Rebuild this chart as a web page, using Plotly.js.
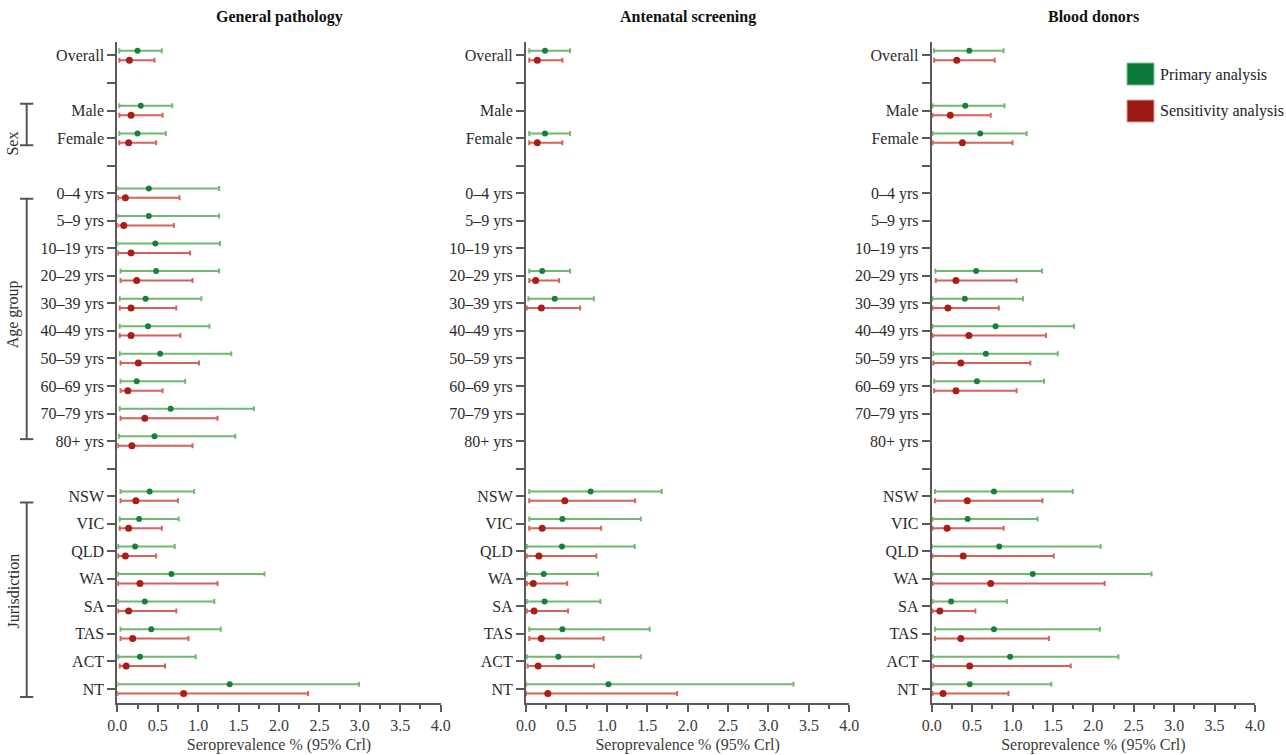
<!DOCTYPE html>
<html>
<head>
<meta charset="utf-8">
<script src="https://cdn.plot.ly/plotly-3.0.1.min.js"></script>
<style>html,body{margin:0;padding:0;background:#fff;}#chart{width:1286px;height:755px;}</style>
</head>
<body>
<div id="chart"></div>
<script>
// ---------- DATA ----------
var categories = ['Overall','','Male','Female','','0–4 yrs','5–9 yrs','10–19 yrs','20–29 yrs','30–39 yrs','40–49 yrs','50–59 yrs','60–69 yrs','70–79 yrs','80+ yrs','','NSW','VIC','QLD','WA','SA','TAS','ACT','NT'];
var panelTitles = ['General pathology','Antenatal screening','Blood donors'];
var seriesNames = ['Primary analysis','Sensitivity analysis'];
var groupLabels = ['Sex','Age group','Jurisdiction'];
var xTitle = 'Seroprevalence % (95% Crl)';

// General pathology
var gpPrimaryEst  = [0.25,null,0.29,0.25,null,0.39,0.39,0.47,0.48,0.35,0.38,0.53,0.24,0.66,0.46,null,0.40,0.27,0.22,0.67,0.34,0.42,0.28,1.39];
var gpPrimaryLow  = [0.025,null,0.025,0.025,null,0.0,0.0,0.0,0.04,0.03,0.03,0.03,0.04,0.03,0.02,null,0.04,0.03,0.01,0.01,0.01,0.04,0.01,0.0];
var gpPrimaryHigh = [0.55,null,0.68,0.60,null,1.26,1.26,1.27,1.26,1.04,1.14,1.41,0.84,1.69,1.46,null,0.95,0.76,0.71,1.82,1.20,1.28,0.97,2.99];
var gpSensEst     = [0.15,null,0.17,0.14,null,0.10,0.08,0.17,0.24,0.17,0.17,0.26,0.13,0.34,0.18,null,0.23,0.14,0.10,0.28,0.14,0.19,0.11,0.82];
var gpSensLow     = [0.025,null,0.025,0.025,null,0.01,0.0,0.01,0.04,0.03,0.03,0.04,0.04,0.04,0.01,null,0.04,0.03,0.01,0.01,0.01,0.04,0.03,0.0];
var gpSensHigh    = [0.46,null,0.56,0.48,null,0.77,0.70,0.90,0.93,0.73,0.78,1.01,0.56,1.24,0.93,null,0.75,0.55,0.48,1.24,0.73,0.88,0.59,2.36];

// Antenatal screening
var anPrimaryEst  = [0.235,null,null,0.235,null,null,null,null,0.20,0.355,null,null,null,null,null,null,0.80,0.45,0.445,0.22,0.23,0.45,0.40,1.02];
var anPrimaryLow  = [0.04,null,null,0.04,null,null,null,null,0.04,0.03,null,null,null,null,null,null,0.04,0.04,0.01,0.01,0.01,0.04,0.01,0.0];
var anPrimaryHigh = [0.545,null,null,0.545,null,null,null,null,0.545,0.84,null,null,null,null,null,null,1.68,1.42,1.345,0.89,0.92,1.53,1.42,3.31];
var anSensEst     = [0.14,null,null,0.14,null,null,null,null,0.12,0.19,null,null,null,null,null,null,0.48,0.20,0.16,0.09,0.10,0.19,0.15,0.27];
var anSensLow     = [0.04,null,null,0.04,null,null,null,null,0.04,0.01,null,null,null,null,null,null,0.04,0.04,0.01,0.01,0.01,0.04,0.02,0.0];
var anSensHigh    = [0.45,null,null,0.45,null,null,null,null,0.41,0.67,null,null,null,null,null,null,1.35,0.93,0.87,0.51,0.52,0.96,0.84,1.87];

// Blood donors
var bdPrimaryEst  = [0.465,null,0.415,0.60,null,null,null,null,0.55,0.41,0.79,0.67,0.56,null,null,null,0.77,0.445,0.835,1.25,0.24,0.77,0.97,0.47];
var bdPrimaryLow  = [0.03,null,0.01,0.01,null,null,null,null,0.045,0.01,0.01,0.02,0.03,null,null,null,0.04,0.01,0.0,0.01,0.01,0.04,0.01,0.01];
var bdPrimaryHigh = [0.89,null,0.90,1.175,null,null,null,null,1.365,1.13,1.76,1.56,1.39,null,null,null,1.745,1.31,2.09,2.72,0.93,2.08,2.31,1.48];
var bdSensEst     = [0.31,null,0.23,0.38,null,null,null,null,0.30,0.20,0.46,0.36,0.30,null,null,null,0.44,0.19,0.39,0.73,0.10,0.36,0.47,0.14];
var bdSensLow     = [0.03,null,0.01,0.01,null,null,null,null,0.05,0.01,0.01,0.02,0.03,null,null,null,0.04,0.01,0.01,0.01,0.01,0.04,0.02,0.01];
var bdSensHigh    = [0.78,null,0.73,1.00,null,null,null,null,1.05,0.83,1.415,1.22,1.05,null,null,null,1.37,0.89,1.51,2.14,0.54,1.45,1.72,0.95];

// ---------- BUILD ----------
var FONT = '"Liberation Serif", "DejaVu Serif", serif';
var panels = [
  {p:[gpPrimaryEst,gpPrimaryLow,gpPrimaryHigh], s:[gpSensEst,gpSensLow,gpSensHigh]},
  {p:[anPrimaryEst,anPrimaryLow,anPrimaryHigh], s:[anSensEst,anSensLow,anSensHigh]},
  {p:[bdPrimaryEst,bdPrimaryLow,bdPrimaryHigh], s:[bdSensEst,bdSensLow,bdSensHigh]}
];
var styles = [
  {marker:'#17803c', err:'#72b872', size:6, off:-0.17},
  {marker:'#a81e18', err:'#d2645b', size:7, off:0.17}
];
var idx = categories.map(function(_, i){ return i; });

var traces = [];
panels.forEach(function(pan, k){
  [pan.p, pan.s].forEach(function(ser, j){
    var est = ser[0], lo = ser[1], hi = ser[2];
    var st = styles[j];
    traces.push({
      type:'scatter', mode:'markers',
      name: seriesNames[j], showlegend:false,
      x: est,
      y: idx.map(function(i){ return i + st.off; }),
      xaxis: k===0 ? 'x' : 'x'+(k+1),
      yaxis: k===0 ? 'y' : 'y'+(k+1),
      marker:{color:st.marker, size:st.size, line:{width:0}},
      error_x:{type:'data', symmetric:false,
        array: est.map(function(v,i){ return v===null ? null : hi[i]-v; }),
        arrayminus: est.map(function(v,i){ return v===null ? null : v-lo[i]; }),
        color:st.err, thickness:2, width:2.5},
      hoverinfo:'skip'
    });
  });
});

var W = 1286, H = 755;
var xDomains = [[117.3/W, 440.7/W],[526/W, 849.3/W],[931.7/W, 1255/W]];
var yDomain = [1-702.7/H, 1-41.7/H];

var layout = {
  width:W, height:H,
  margin:{l:0,r:0,t:0,b:0},
  paper_bgcolor:'#fff', plot_bgcolor:'#fff',
  font:{family:FONT, size:16, color:'#2b2b2b'},
  showlegend:false,
  shapes:[], annotations:[]
};

for (var k=0;k<3;k++){
  var xs = k===0 ? 'xaxis' : 'xaxis'+(k+1);
  var ys = k===0 ? 'yaxis' : 'yaxis'+(k+1);
  layout[xs] = {
    domain:xDomains[k], anchor: k===0?'y':'y'+(k+1),
    range:[0,4], tickvals:[0,0.5,1,1.5,2,2.5,3,3.5,4],
    ticktext:['0.0','0.5','1.0','1.5','2.0','2.5','3.0','3.5','4.0'],
    ticks:'outside', ticklen:7, tickwidth:2, tickcolor:'#5a5a5a',
    minor:{tickvals:[0.25,0.75,1.25,1.75,2.25,2.75,3.25,3.75], ticks:'outside', ticklen:4, tickwidth:2, tickcolor:'#5a5a5a'},
    showline:true, linecolor:'#5a5a5a', linewidth:2,
    showgrid:false, zeroline:false,
    tickfont:{family:FONT, size:16, color:'#3a3a3a'},
    title:{text:xTitle, font:{family:FONT, size:16, color:'#3a3a3a'}, standoff:6},
    fixedrange:true
  };
  layout[ys] = {
    domain:yDomain, anchor: k===0?'x':'x'+(k+1),
    range:[23.5,-0.5], tickvals:idx, ticktext:categories,
    ticks:'outside', ticklen:8, tickwidth:2, tickcolor:'#5a5a5a',
    showline:true, linecolor:'#5a5a5a', linewidth:2,
    showgrid:false, zeroline:false,
    tickfont:{family:FONT, size:16, color:'#2b2b2b'},
    fixedrange:true
  };
  layout.annotations.push({
    text:'<b>'+panelTitles[k]+'</b>', xref:(k===0?'x':'x'+(k+1))+' domain', x:0.5,
    yref:'paper', y:1-17/H, yanchor:'middle', xanchor:'center', showarrow:false,
    font:{family:FONT, size:16, color:'#111'}
  });
}

// group brackets (first panel)
var brackets = [[1.75,3.26,3.2],[5.2,13.93,9.4],[16.23,23.29,19.46]];
brackets.forEach(function(b, i){
  var x0 = 26.7/W, c0 = 20/W, c1 = 33.3/W;
  layout.shapes.push({type:'line', xref:'paper', yref:'y', x0:x0, x1:x0, y0:b[0], y1:b[1], line:{color:'#555', width:2}});
  layout.shapes.push({type:'line', xref:'paper', yref:'y', x0:c0, x1:c1, y0:b[0], y1:b[0], line:{color:'#555', width:2}});
  layout.shapes.push({type:'line', xref:'paper', yref:'y', x0:c0, x1:c1, y0:b[1], y1:b[1], line:{color:'#555', width:2}});
  layout.annotations.push({text:groupLabels[i], xref:'paper', yref:'y', x:13/W, y:b[2],
    textangle:-90, showarrow:false, xanchor:'center', yanchor:'middle',
    font:{family:FONT, size:16, color:'#2b2b2b'}});
});

// legend (drawn manually, top right)
var legFill = ['#0c7a38','#9c1a14'], legLine = ['#86c595','#e1a096'];
[[63,85,75],[100,122,111]].forEach(function(r, j){
  layout.shapes.push({type:'rect', xref:'paper', yref:'paper',
    x0:1127/W, x1:1154/W, y0:1-r[1]/H, y1:1-r[0]/H,
    fillcolor:legFill[j], line:{color:legLine[j], width:1}});
  layout.annotations.push({text:seriesNames[j], xref:'paper', yref:'paper',
    x:1158/W, y:1-r[2]/H, xanchor:'left', yanchor:'middle', showarrow:false,
    font:{family:FONT, size:16, color:'#222'}});
});

Plotly.newPlot('chart', traces, layout, {staticPlot:true, displayModeBar:false});
</script>
</body>
</html>
